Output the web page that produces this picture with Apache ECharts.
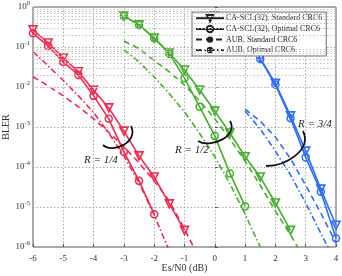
<!DOCTYPE html>
<html><head><meta charset="utf-8">
<script src="https://cdn.jsdelivr.net/npm/echarts@6/dist/echarts.min.js"></script>
<style>html,body{margin:0;padding:0;background:#fff}#c{width:342px;height:276px}</style>
</head><body><div id="c"></div>
<script>
// ---- data (BLER vs Es/N0 in dB) ----
const xR_tri = [-6,-5.5,-5,-4.5,-4,-3.5,-3,-2.5,-2,-1.5,-1];
const yR_tri = [0.27,0.126,0.053,0.024,0.0083,0.003,7.9e-4,1.9e-4,5.6e-5,1.2e-5,2.6e-6];
const xR_cir = [-6,-5.5,-5,-4.5,-4,-3.5,-3,-2.5,-2];
const yR_cir = [0.22,0.106,0.042,0.02,0.006,1.6e-3,2.4e-4,4.5e-5,6.6e-6];
const xR_aubS = [-6,-5.5,-5,-4.5,-4,-3.5,-3,-2.5,-2,-1.5,-1,-0.5];
const yR_aubS = [1.8e-2,1.07e-2,6.0e-3,3.2e-3,1.6e-3,7.4e-4,3.2e-4,1.26e-4,4.5e-5,1.4e-5,2.8e-6,5e-7];
const xR_aubO = [-6,-5.5,-5,-4.5,-4,-3.5,-3,-2.5,-2,-1.5];
const yR_aubO = [7.6e-2,3.4e-2,1.45e-2,6.0e-3,2.3e-3,7.1e-4,1.9e-4,4.0e-5,6.3e-6,7.9e-7];

const xG_tri = [-3,-2.5,-2,-1.5,-1,-0.5,0,0.5,1,1.5,2,2.5];
const yG_tri = [0.6,0.36,0.168,0.071,0.0266,8.4e-3,2.5e-3,7.1e-4,1.8e-4,5.6e-5,1.26e-5,2.6e-6];
const xG_cir = [-3,-2.5,-2,-1.5,-1,-0.5,0,0.5,1];
const yG_cir = [0.59,0.355,0.166,0.068,0.0166,3.2e-3,6.0e-4,6.9e-5,1.05e-5];
const xG_aubS = [-3,-2.5,-2,-1.5,-1,-0.5,0,0.5,1,1.5,2,2.5,3];
const yG_aubS = [0.141,0.091,0.046,0.024,0.0112,4.5e-3,1.6e-3,5.0e-4,1.4e-4,3.5e-5,7.9e-6,2.0e-6,4.5e-7];
const xG_aubO = [-3,-2.5,-2,-1.5,-1,-0.5,0,0.5,1,1.5];
const yG_aubO = [0.085,0.042,0.0178,6.8e-3,2.4e-3,6.9e-4,1.8e-4,3.8e-5,6.6e-6,1.0e-6];

const xB_tri = [0,0.5,1,1.5,2,2.5,3,3.5,4];
const yB_tri = [0.6,0.355,0.158,0.052,0.0123,1.9e-3,2.5e-4,2.8e-5,3.5e-6];
const xB_cir = [0,0.5,1,1.5,2,2.5,3,3.5,4];
const yB_cir = [0.6,0.347,0.151,0.05,0.0115,1.66e-3,1.74e-4,2.4e-5,1.66e-6];
const xB_aubS = [1,1.5,2,2.5,3,3.5,4];
const yB_aubS = [2.8e-3,1.4e-3,5.6e-4,1.6e-4,3.5e-5,7.0e-6,1.26e-6];
const xB_aubO = [1,1.5,2,2.5,3,3.5,4];
const yB_aubO = [2.5e-3,8.9e-4,2.5e-4,6.3e-5,1.26e-5,2.2e-6,4.0e-7];

const legendNames = ['CA-SCL(32), Standard CRC6','CA-SCL(32), Optimal CRC6','AUB, Standard CRC6','AUB, Optimal CRC6'];
const rateLabels = ['R = 1/4','R = 1/2','R = 3/4'];

// ---- styling ----
const RED='#f2294f', GREEN='#45ad2c', BLUE='#2f6ef5';
const SERIF='"Liberation Serif","DejaVu Serif",serif';
const zip=(xs,ys)=>xs.map((x,i)=>[x,ys[i]]);
function mk(name,xs,ys,color,kind){
  const s={type:'line',name:name,data:zip(xs,ys),clip:true,silent:true,
    lineStyle:{color:color,width:1.6},itemStyle:{color:color},z:3};
  if(kind==='tri'){s.symbol='triangle';s.symbolRotate=180;s.symbolSize=8;
    s.itemStyle={color:'rgba(255,255,255,0)',borderColor:color,borderWidth:1.6};}
  else if(kind==='cir'){s.symbol='circle';s.symbolSize=7;
    s.itemStyle={color:'rgba(255,255,255,0)',borderColor:color,borderWidth:1.5};}
  else if(kind==='dash'){s.symbol='none';s.lineStyle.type=[6,4];}
  else {s.symbol='none';s.lineStyle.type=[6,2.5,1.5,2.5];}
  return s;
}
const series=[
  mk('r1',xR_tri,yR_tri,RED,'tri'),mk('r2',xR_cir,yR_cir,RED,'cir'),
  mk('r3',xR_aubS,yR_aubS,RED,'dash'),mk('r4',xR_aubO,yR_aubO,RED,'dashdot'),
  mk('g1',xG_tri,yG_tri,GREEN,'tri'),mk('g2',xG_cir,yG_cir,GREEN,'cir'),
  mk('g3',xG_aubS,yG_aubS,GREEN,'dash'),mk('g4',xG_aubO,yG_aubO,GREEN,'dashdot'),
  mk('b1',xB_tri,yB_tri,BLUE,'tri'),mk('b2',xB_cir,yB_cir,BLUE,'cir'),
  mk('b3',xB_aubS,yB_aubS,BLUE,'dash'),mk('b4',xB_aubO,yB_aubO,BLUE,'dashdot')
];
const legKinds=['tri','cir','dash','dashdot'];
legendNames.forEach((n,i)=>{const s=mk(n,[],[],'#222',legKinds[i]); s.data=[]; series.push(s);});
const minorVals=[];
for(let d=-6;d<0;d++){for(let k=2;k<=9;k++){minorVals.push({yAxis:k*Math.pow(10,d)});}}
series.push({type:'line',name:'_grid',data:[],silent:true,z:1,
  markLine:{silent:true,symbol:['none','none'],label:{show:false},animation:false,
    lineStyle:{color:'#c4c4c4',type:[1.5,2],width:1},data:minorVals}});

const chart=echarts.init(document.getElementById('c'),null,{renderer:'canvas'});
chart.setOption({
  animation:false,
  backgroundColor:'#fff',
  grid:{left:33,top:7,right:6,bottom:29,outerBoundsMode:'none',containLabel:false,show:true,borderColor:'#555',borderWidth:1,backgroundColor:'transparent'},
  xAxis:{type:'value',min:-6,max:4,interval:1,
    axisLine:{show:false},axisTick:{show:true,inside:true,length:3,lineStyle:{color:'#555'}},
    axisLabel:{fontFamily:SERIF,fontSize:9,color:'#333',margin:7,formatter:v=>String(v)},
    splitLine:{show:true,lineStyle:{color:'#aaa',type:[1.5,2]}},
    name:'Es/N0 (dB)',nameLocation:'middle',nameGap:16,nameMoveOverlap:false,
    nameTextStyle:{fontFamily:SERIF,fontSize:10,color:'#333'}},
  yAxis:{type:'log',logBase:10,min:1e-6,max:1,splitNumber:6,
    axisLine:{show:false},axisTick:{show:true,inside:true,length:3,lineStyle:{color:'#555'}},
    axisLabel:{margin:3,formatter:v=>{const e=Math.round(Math.log10(v));return '{b|10}{e|'+e+'}';},
      rich:{b:{fontFamily:SERIF,fontSize:9,color:'#333'},e:{fontFamily:SERIF,fontSize:6.5,color:'#333',padding:[0,0,7,0]}}},
    splitLine:{show:true,lineStyle:{color:'#aaa',type:[1.5,2]}},
    name:'BLER',nameLocation:'middle',nameGap:22,nameRotate:90,nameMoveOverlap:false,
    nameTextStyle:{fontFamily:SERIF,fontSize:10,color:'#333'}},
  legend:{data:legendNames,orient:'vertical',left:192,top:12,itemWidth:28,itemHeight:8,itemGap:2.4,
    backgroundColor:'#fff',borderColor:'#666',borderWidth:1,padding:[2,4,2,3],
    textStyle:{fontFamily:SERIF,fontSize:8,color:'#222',padding:[0,0,0,-3]},selectedMode:false},
  graphic:[
    {type:'bezierCurve',shape:{x1:103,y1:145,cpx1:113,cpy1:154,cpx2:139,cpy2:142,x2:131,y2:126},style:{stroke:'#111',lineWidth:1.8,fill:null},z:10},
    {type:'bezierCurve',shape:{x1:198,y1:141,cpx1:210,cpy1:149,cpx2:239,cpy2:136,x2:230,y2:121},style:{stroke:'#111',lineWidth:1.8,fill:null},z:10},
    {type:'bezierCurve',shape:{x1:266,y1:166,cpx1:286,cpy1:166,cpx2:312,cpy2:150,x2:303,y2:131},style:{stroke:'#111',lineWidth:1.8,fill:null},z:10},
    {type:'text',left:84,top:155,style:{text:rateLabels[0],font:'italic 11px '+SERIF,fill:'#222'},z:10},
    {type:'text',left:175,top:145,style:{text:rateLabels[1],font:'italic 11px '+SERIF,fill:'#222'},z:10},
    {type:'text',left:298,top:119,style:{text:rateLabels[2],font:'italic 11px '+SERIF,fill:'#222'},z:10}
  ],
  series:series
});
</script></body></html>
